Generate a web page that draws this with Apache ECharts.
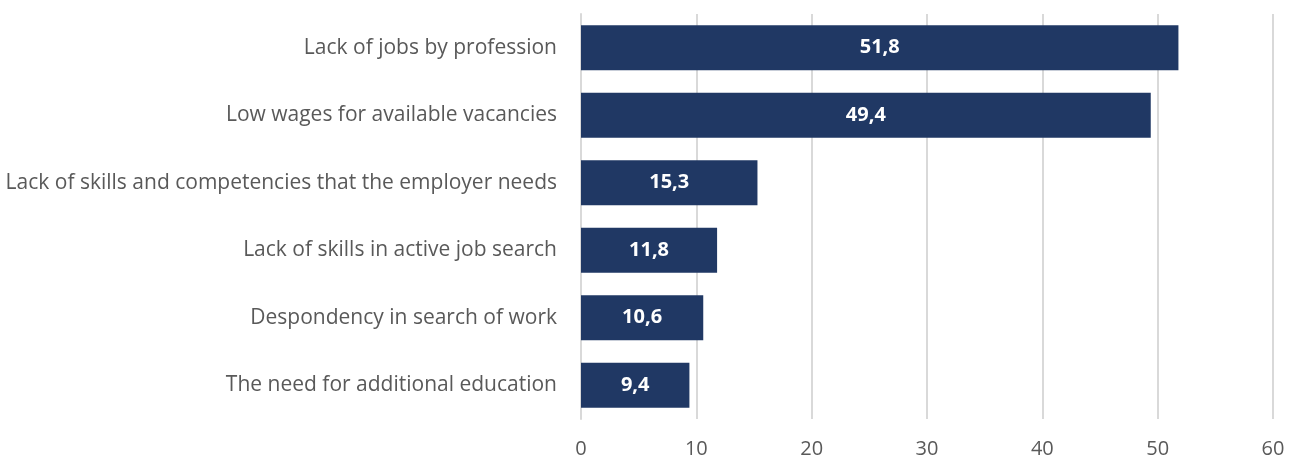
<!DOCTYPE html>
<html><head><meta charset="utf-8">
<script src="https://cdn.jsdelivr.net/npm/echarts@6/dist/echarts.min.js"></script>
<style>html,body{margin:0;padding:0;background:#fff}#c{width:1294px;height:459px}</style>
</head><body><div id="c"></div>
<script>
const categories = [
  "Lack of jobs by profession",
  "Low wages for available vacancies",
  "Lack of skills and competencies that the employer needs",
  "Lack of skills in active job search",
  "Despondency in search of work",
  "The need for additional education"
];
const values = [51.8, 49.4, 15.3, 11.8, 10.6, 9.4];
const xTicks = [0, 10, 20, 30, 40, 50, 60];

const chart = echarts.init(document.getElementById('c'));
chart.setOption({
  animation: false,
  grid: { left: 581, right: 21, top: 14, bottom: 40, containLabel: false },
  xAxis: {
    type: 'value', min: 0, max: 60, interval: 10,
    axisLine: { show: false }, axisTick: { show: false },
    splitLine: { lineStyle: { color: '#d9d9d9', width: 2 } },
    axisLabel: { color: '#595959', fontFamily: 'Open Sans', fontSize: 20, margin: 20,
      formatter: v => xTicks.includes(v) ? String(v) : '' }
  },
  yAxis: {
    type: 'category', data: categories, inverse: true,
    axisLine: { show: true, lineStyle: { color: '#d9d9d9', width: 2 } },
    axisTick: { show: false },
    axisLabel: { color: '#595959', fontFamily: 'Open Sans', fontSize: 21, margin: 24 }
  },
  series: [{
    type: 'bar', data: values, barWidth: '67%',
    itemStyle: { color: '#203864' },
    label: { show: true, position: 'inside', color: '#fff', fontWeight: 'bold',
      fontFamily: 'Open Sans', fontSize: 20, formatter: p => String(p.value).replace('.', ',') }
  }]
});
</script></body></html>
